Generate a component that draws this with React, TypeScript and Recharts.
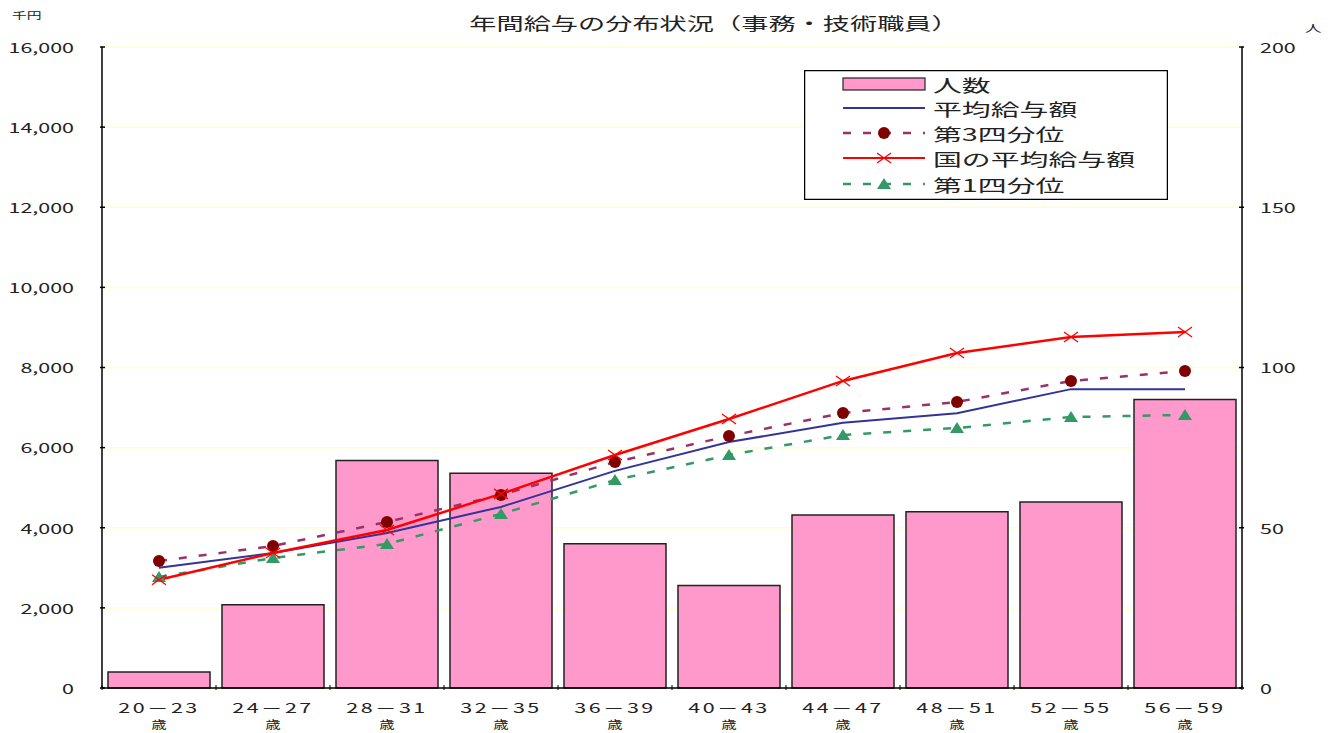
import { ComposedChart, Bar, Line, XAxis, YAxis, CartesianGrid, Legend, Customized } from 'recharts';

const categories = ['20－23', '24－27', '28－31', '32－35', '36－39', '40－43', '44－47', '48－51', '52－55', '56－59'];
const headcount = [5, 26, 71, 67, 45, 32, 54, 55, 58, 90];
const avgPay = [3000, 3370, 3870, 4520, 5420, 6140, 6620, 6860, 7460, 7460];
const q3 = [3170, 3545, 4145, 4820, 5640, 6290, 6865, 7140, 7665, 7910];
const nationalAvg = [2700, 3370, 3945, 4845, 5815, 6715, 7665, 8360, 8760, 8885];
const q1 = [2770, 3245, 3595, 4345, 5190, 5815, 6315, 6490, 6765, 6815];
const leftTicks = [0, 2000, 4000, 6000, 8000, 10000, 12000, 14000, 16000];
const rightTicks = [0, 50, 100, 150, 200];

const data = categories.map((name, i) => ({
  name,
  headcount: headcount[i],
  avgPay: avgPay[i],
  q3: q3[i],
  nationalAvg: nationalAvg[i],
  q1: q1[i],
}));

const FONT = '"Noto Sans CJK JP", "Noto Sans", sans-serif';
const SX = 1.65; // 元画像は横に引き伸ばされている
const INK = '#222';

function WideText({ x, y, size, anchor = 'start', children, spacing = 0, sx = SX }: any) {
  return (
    <text
      transform={`translate(${x},${y}) scale(${sx},1)`}
      textAnchor={anchor}
      dominantBaseline="central"
      fontSize={size}
      fontFamily={FONT}
      fill={INK}
      letterSpacing={spacing}
    >
      {children}
    </text>
  );
}

const LeftTick = ({ x, y, payload }: any) => (
  <g>
    <line x1={x} y1={y} x2={x + 5} y2={y} stroke="#000" strokeWidth={1.5} />
    <WideText x={x - 26} y={y} size={13} anchor="end">
      {Number(payload.value).toLocaleString('en-US')}
    </WideText>
  </g>
);

const RightTick = ({ x, y, payload }: any) => (
  <g>
    <line x1={x - 5} y1={y} x2={x} y2={y} stroke="#000" strokeWidth={1.5} />
    <WideText x={x + 16} y={y} size={13}>
      {payload.value}
    </WideText>
  </g>
);

const BAND = 114;
const XTick = ({ x, y, payload, index }: any) => (
  <g>
    {index === 0 && <line x1={x - BAND / 2} y1={y} x2={x - BAND / 2} y2={y - 5} stroke="#000" />}
    <line x1={x + BAND / 2} y1={y} x2={x + BAND / 2} y2={y - 5} stroke="#000" />
    <WideText x={x} y={y + 17} size={13} anchor="middle" spacing={1.5}>
      {payload.value}
    </WideText>
    <WideText x={x} y={y + 34} size={11} anchor="middle" sx={1.4}>
      歳
    </WideText>
  </g>
);

const CircleDot = ({ cx, cy }: any) =>
  cx == null ? null : <circle cx={cx} cy={cy} r={6} fill="#800000" />;

const CrossDot = ({ cx, cy }: any) =>
  cx == null ? null : (
    <g stroke="#ff0000" strokeWidth={1.3}>
      <line x1={cx - 7} y1={cy - 5} x2={cx + 7} y2={cy + 5} />
      <line x1={cx - 7} y1={cy + 5} x2={cx + 7} y2={cy - 5} />
    </g>
  );

const TriDot = ({ cx, cy }: any) =>
  cx == null ? null : (
    <polygon points={`${cx},${cy - 6} ${cx + 7},${cy + 5} ${cx - 7},${cy + 5}`} fill="#339966" />
  );

const legendRows = [
  { label: '人数', kind: 'bar' },
  { label: '平均給与額', kind: 'avg' },
  { label: '第3四分位', kind: 'q3' },
  { label: '国の平均給与額', kind: 'nat' },
  { label: '第1四分位', kind: 'q1' },
];

function LegendBox() {
  const rowY = [14, 38, 63, 88, 114];
  return (
    <svg width={364} height={130} style={{ display: 'block' }}>
      <rect x={0.5} y={0.5} width={363} height={129} fill="#fff" stroke="#000" strokeWidth={1.5} />
      {legendRows.map((r, i) => {
        const y = rowY[i];
        let icon = null;
        if (r.kind === 'bar') icon = <rect x={39} y={y - 6} width={82} height={12} fill="#ff99cc" stroke="#222" strokeWidth={1.2} />;
        if (r.kind === 'avg') icon = <line x1={39} y1={y} x2={121} y2={y} stroke="#333399" strokeWidth={2} />;
        if (r.kind === 'nat')
          icon = (
            <g>
              <line x1={39} y1={y} x2={121} y2={y} stroke="#ff0000" strokeWidth={2} />
              <CrossDot cx={80} cy={y} />
            </g>
          );
        if (r.kind === 'q3')
          icon = (
            <g>
              <line x1={39} y1={y} x2={121} y2={y} stroke="#993366" strokeWidth={2.5} strokeDasharray="8 12" />
              <CircleDot cx={80} cy={y} />
            </g>
          );
        if (r.kind === 'q1')
          icon = (
            <g>
              <line x1={39} y1={y} x2={121} y2={y} stroke="#339966" strokeWidth={2.5} strokeDasharray="8 12" />
              <TriDot cx={80} cy={y} />
            </g>
          );
        return (
          <g key={r.label}>
            {icon}
            <WideText x={129} y={y} size={17.5}>
              {r.label}
            </WideText>
          </g>
        );
      })}
    </svg>
  );
}

const Labels = () => (
  <g>
    <WideText x={706} y={15} size={17} anchor="middle" sx={1.6}>
      年間給与の分布状況（事務・技術職員）
    </WideText>
    <WideText x={4} y={7} size={9}>
      千円
    </WideText>
    <WideText x={1297} y={20} size={10}>
      人
    </WideText>
  </g>
);

export default function App() {
  return (
    <ComposedChart
      width={1321}
      height={725}
      data={data}
      margin={{ top: 39, right: 0, bottom: 0, left: 0 }}
      style={{ fontFamily: FONT }}
    >
      <CartesianGrid vertical={false} stroke="#ffffcc" strokeWidth={1.5} />
      <XAxis
        dataKey="name"
        height={45}
        axisLine={{ stroke: '#000', strokeWidth: 1.5 }}
        tickLine={false}
        tickSize={0}
        tick={<XTick />}
        interval={0}
      />
      <YAxis
        width={94}
        domain={[0, 16000]}
        ticks={leftTicks}
        axisLine={{ stroke: '#000', strokeWidth: 1.5 }}
        tickLine={false}
        tickSize={0}
        tick={<LeftTick />}
        interval={0}
      />
      <YAxis
        yAxisId="right"
        orientation="right"
        width={87}
        domain={[0, 200]}
        ticks={rightTicks}
        axisLine={{ stroke: '#000', strokeWidth: 1.5 }}
        tickLine={false}
        tickSize={0}
        tick={<RightTick />}
        interval={0}
      />
      <Bar yAxisId="right" dataKey="headcount" name="人数" barSize={102} fill="#ff99cc" stroke="#222" strokeWidth={1.5} isAnimationActive={false} />
      <Line dataKey="avgPay" name="平均給与額" stroke="#333399" strokeWidth={2} dot={false} isAnimationActive={false} />
      <Line dataKey="q1" name="第1四分位" stroke="#339966" strokeWidth={2.5} strokeDasharray="8 12" dot={<TriDot />} isAnimationActive={false} />
      <Line dataKey="q3" name="第3四分位" stroke="#993366" strokeWidth={2.5} strokeDasharray="8 12" dot={<CircleDot />} isAnimationActive={false} />
      <Line dataKey="nationalAvg" name="国の平均給与額" stroke="#ff0000" strokeWidth={2.5} dot={<CrossDot />} isAnimationActive={false} />
      <Legend
        layout="vertical"
        align="center"
        verticalAlign="middle"
        wrapperStyle={{ position: 'absolute', left: 796, top: 62, width: 364, height: 130 }}
        content={() => <LegendBox />}
      />
      <Customized component={Labels} />
    </ComposedChart>
  );
}
